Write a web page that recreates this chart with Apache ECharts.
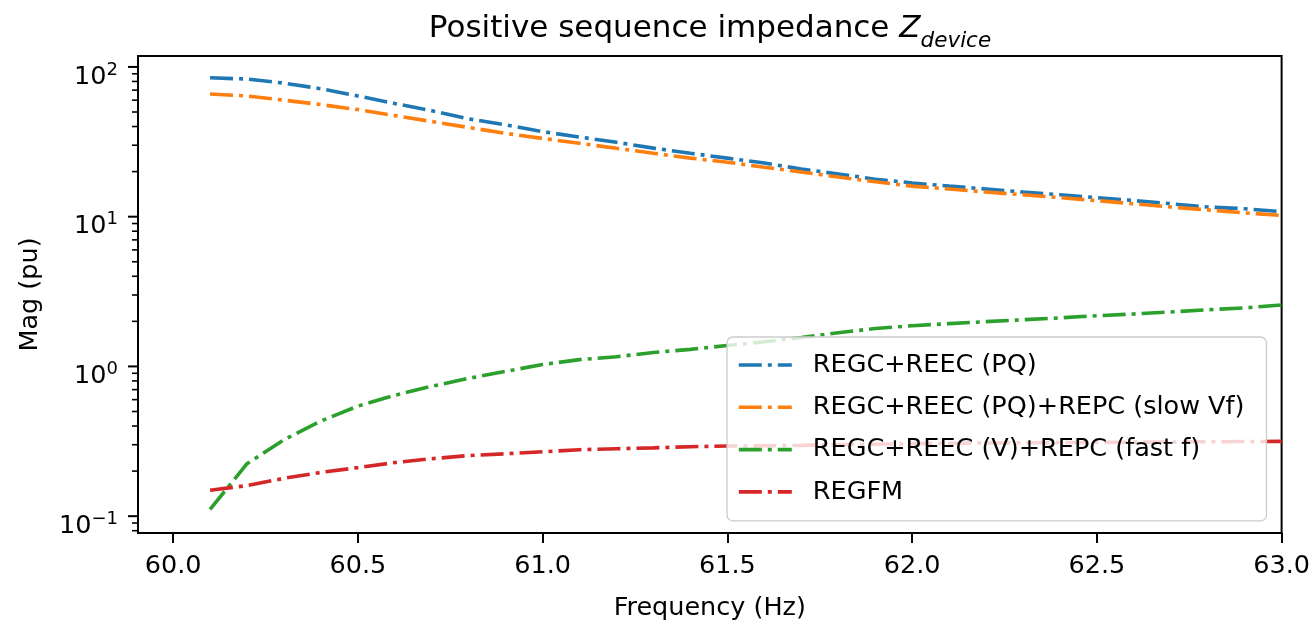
<!DOCTYPE html>
<html>
<head>
<meta charset="utf-8">
<script src="https://cdn.jsdelivr.net/npm/echarts@6/dist/echarts.min.js"></script>
<style>html,body{margin:0;padding:0;background:#fff}#chart{width:1313px;height:626px}</style>
</head>
<body>
<div id="chart"></div>
<script>
// ---- data ----
const FREQ = [60.1, 60.2, 60.3, 60.4, 60.5, 60.6, 60.7, 60.8, 60.9, 61.0,
              61.1, 61.2, 61.3, 61.4, 61.5, 61.6, 61.7, 61.8, 61.9, 62.0,
              62.1, 62.2, 62.3, 62.4, 62.5, 62.6, 62.7, 62.8, 62.9, 63.0];
const SERIES_NAMES = ['REGC+REEC (PQ)', 'REGC+REEC (PQ)+REPC (slow Vf)', 'REGC+REEC (V)+REPC (fast f)', 'REGFM'];
const MAG_PQ = [84.6, 83, 78, 71.5, 64, 57, 51, 45, 41, 37,
                34, 31.4, 28.7, 26.5, 24.6, 22.8, 20.8, 19.3, 17.8, 16.8,
                16.0, 15.3, 14.6, 14.0, 13.4, 12.8, 12.2, 11.6, 11.3, 10.8];
const MAG_PQ_SLOW = [66, 64, 60, 56, 51.9, 47.3, 43.2, 39.4, 36, 33.3,
                     30.9, 28.6, 26.5, 24.6, 23.1, 21.4, 19.9, 18.4, 17.1, 16.0,
                     15.3, 14.6, 14.0, 13.4, 12.8, 12.2, 11.6, 11.1, 10.6, 10.2];
const MAG_V_FAST = [0.111, 0.224, 0.324, 0.432, 0.543, 0.642, 0.737, 0.833, 0.927, 1.03,
                    1.11, 1.16, 1.24, 1.30, 1.38, 1.46, 1.56, 1.68, 1.79, 1.87,
                    1.93, 1.99, 2.05, 2.11, 2.18, 2.24, 2.31, 2.39, 2.46, 2.57];
const MAG_REGFM = [0.149, 0.160, 0.179, 0.196, 0.211, 0.228, 0.242, 0.254, 0.261, 0.269,
                   0.278, 0.282, 0.286, 0.291, 0.294, 0.295, 0.297, 0.300, 0.302, 0.305,
                   0.307, 0.308, 0.309, 0.310, 0.311, 0.312, 0.313, 0.314, 0.315, 0.316];
const X_TICKS = [60.0, 60.5, 61.0, 61.5, 62.0, 62.5, 63.0];
const Y_MAJOR_TICKS = [0.1, 1, 10, 100];
const Y_MINOR_MULTS = [2, 3, 4, 5, 6, 7, 8, 9];

// ---- axis ranges ----
const X_MIN = 59.905, X_MAX = 63.0;
const Y_MIN = 0.0772, Y_MAX = 118.3;

const COLORS = ['#1f77b4', '#ff7f0e', '#2ca02c', '#d62728'];
const FONT = 'DejaVu Sans';
const DASH = [23, 6, 4, 6];

const Y_MINOR_TICKS = [];
[0.01, 0.1, 1, 10, 100].forEach(d => Y_MINOR_MULTS.forEach(m => {
  const v = +(m * d).toPrecision(6);
  if (v >= Y_MIN && v <= Y_MAX) Y_MINOR_TICKS.push(v);
}));

const SUP = {'2': '2', '1': '1', '0': '0', '-1': '\u22121'};

function lineSeries(name, values, color) {
  return {
    name: name,
    type: 'line',
    data: FREQ.map((f, i) => [f, values[i]]),
    symbol: 'none',
    smooth: false,
    lineStyle: {color: color, width: 3.6, type: DASH, cap: 'butt'},
    itemStyle: {color: color},
    z: 3
  };
}

const chart = echarts.init(document.getElementById('chart'), null, {renderer: 'canvas'});
chart.setOption({
  animation: false,
  backgroundColor: '#fff',
  textStyle: {fontFamily: FONT, color: '#000'},
  title: {
    text: '{a|Positive sequence impedance }{z|Z}{s|device}',
    left: 710,
    textAlign: 'center',
    top: 13,
    padding: 0,
    textStyle: {
      fontFamily: FONT,
      fontWeight: 'normal',
      rich: {
        a: {fontFamily: FONT, fontWeight: 'normal', fontSize: 31, lineHeight: 32, verticalAlign: 'top', color: '#000'},
        z: {fontFamily: FONT, fontWeight: 'normal', fontSize: 31, lineHeight: 32, verticalAlign: 'top', fontStyle: 'italic', color: '#000'},
        s: {fontFamily: FONT, fontWeight: 'normal', fontSize: 21.5, lineHeight: 22, verticalAlign: 'top', fontStyle: 'italic', padding: [17, 0, 0, 0], color: '#000'}
      }
    }
  },
  legend: {
    orient: 'vertical',
    left: 727,
    top: 337,
    data: SERIES_NAMES,
    itemWidth: 53,
    itemHeight: 26,
    itemGap: 16.3,
    padding: [15, 22, 16, 10],
    backgroundColor: 'rgba(255,255,255,0.8)',
    borderColor: '#cccccc',
    borderWidth: 1.3,
    borderRadius: 6,
    itemStyle: {opacity: 0},
    lineStyle: {width: 3.6, type: DASH, cap: 'butt'},
    textStyle: {fontFamily: FONT, fontSize: 25.5, color: '#000', lineHeight: 26, padding: [0, 0, 0, 16]},
    z: 20
  },
  grid: {
    left: 138, right: 31, top: 56, bottom: 89,
    show: true, borderColor: '#000', borderWidth: 2, backgroundColor: 'transparent'
  },
  xAxis: {
    type: 'value',
    min: X_MIN, max: X_MAX,
    name: 'Frequency (Hz)',
    nameLocation: 'middle',
    nameGap: 62,
    nameTextStyle: {fontFamily: FONT, fontSize: 25.5, color: '#000'},
    axisLine: {show: true, lineStyle: {color: '#000', width: 2}},
    axisTick: {show: true, length: 10, inside: false, customValues: X_TICKS, lineStyle: {color: '#000', width: 2}},
    axisLabel: {show: true, margin: 20, customValues: X_TICKS, fontFamily: FONT, fontSize: 25.5, color: '#000',
                formatter: v => v.toFixed(1)},
    splitLine: {show: false}
  },
  yAxis: {
    type: 'log',
    logBase: 10,
    min: Y_MIN, max: Y_MAX,
    name: 'Mag (pu)',
    nameLocation: 'middle',
    nameGap: 95,
    nameTextStyle: {fontFamily: FONT, fontSize: 25.5, color: '#000'},
    axisLine: {show: true, lineStyle: {color: '#000', width: 2}},
    axisTick: {show: false},
    axisLabel: {
      show: true, margin: 20, showMinLabel: false, showMaxLabel: false,
      formatter: v => {
        const e = Math.round(Math.log10(v));
        if (Math.abs(Math.log10(v) - e) > 1e-6) return '';
        return '{b|10}{p|' + (SUP[String(e)] || String(e)) + '}';
      },
      rich: {
        b: {fontFamily: FONT, fontSize: 25.5, lineHeight: 26, verticalAlign: 'top', padding: [10, 0, 0, 0], color: '#000'},
        p: {fontFamily: FONT, fontSize: 18, lineHeight: 18, verticalAlign: 'top', padding: [7, 0, 0, 0], color: '#000'}
      }
    },
    splitLine: {show: false},
    minorTick: {show: false}
  },
  series: [
    lineSeries(SERIES_NAMES[0], MAG_PQ, COLORS[0]),
    lineSeries(SERIES_NAMES[1], MAG_PQ_SLOW, COLORS[1]),
    lineSeries(SERIES_NAMES[2], MAG_V_FAST, COLORS[2]),
    lineSeries(SERIES_NAMES[3], MAG_REGFM, COLORS[3])
  ]
});

// y-axis major / minor tick marks (log positions taken from the chart's own scale)
function tickEl(v, len, w) {
  const p = chart.convertToPixel({gridIndex: 0}, [X_MIN, v]);
  return {
    type: 'line',
    silent: true,
    z: 50,
    shape: {x1: p[0] - len, y1: p[1], x2: p[0], y2: p[1]},
    style: {stroke: '#000', lineWidth: w}
  };
}
const tickEls = Y_MAJOR_TICKS.map(v => tickEl(v, 10, 2)).concat(Y_MINOR_TICKS.map(v => tickEl(v, 6, 1.6)));
chart.setOption({graphic: {elements: tickEls}});
</script>
</body>
</html>
